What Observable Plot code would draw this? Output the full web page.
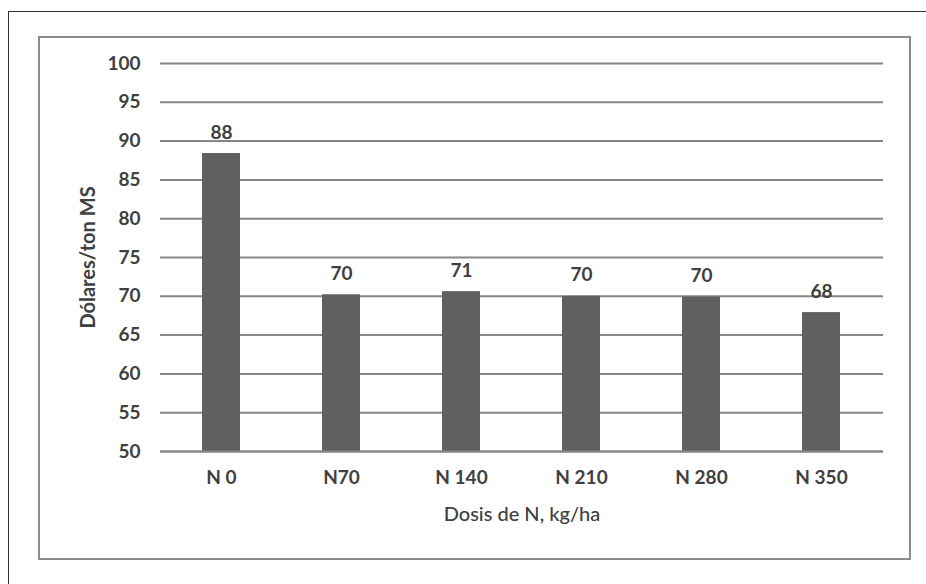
<!DOCTYPE html>
<html>
<head>
<meta charset="utf-8">
<script src="https://cdn.jsdelivr.net/npm/d3@7"></script>
<script src="https://cdn.jsdelivr.net/npm/@observablehq/plot@0.6"></script>
<style>
  html, body { margin: 0; padding: 0; background: #fff; }
  #wrap { position: relative; width: 926px; height: 584px; overflow: hidden; background: #fff; }
  #outerTop { position: absolute; left: 8px; top: 11px; width: 930px; height: 0; border-top: 1.5px solid #333; }
  #outerLeft { position: absolute; left: 8px; top: 11px; width: 0; height: 600px; border-left: 1.5px solid #333; }
  #inner { position: absolute; left: 38px; top: 36px; width: 869px; height: 520px; border: 2px solid #8c8c8c; }
  #chart { position: absolute; left: 0; top: 0; }
</style>
</head>
<body>
<div id="wrap">
  <div id="outerTop"></div>
  <div id="outerLeft"></div>
  <div id="inner"></div>
  <div id="chart"></div>
</div>
<script>
const categories = ["N 0", "N70", "N 140", "N 210", "N 280", "N 350"];
const values = [88.4, 70.2, 70.6, 70.0, 69.9, 67.9];
const valueLabels = ["88", "70", "71", "70", "70", "68"];
const yTicks = [50, 55, 60, 65, 70, 75, 80, 85, 90, 95, 100];

const data = categories.map((c, i) => ({ cat: c, value: values[i], label: valueLabels[i] }));

const font = "Lato, 'Open Sans', sans-serif";
const chart = Plot.plot({
  width: 926,
  height: 584,
  marginLeft: 160,
  marginRight: 43,
  marginTop: 63,
  marginBottom: 133,
  style: { fontFamily: font, fontSize: "19px", color: "#404040", background: "transparent", overflow: "visible" },
  x: { domain: categories, paddingInner: 0.68, paddingOuter: 0.34, label: null },
  y: { domain: [50, 100], label: null },
  marks: [
    Plot.gridY(yTicks, { stroke: "#868686", strokeWidth: 2, strokeOpacity: 1 }),
    Plot.barY(data, { x: "cat", y1: 50, y2: "value", fill: "#606060" }),
    Plot.ruleY([50], { stroke: "#868686", strokeWidth: 2 }),
    Plot.axisY(yTicks, { tickSize: 0, tickPadding: 20, fontWeight: "bold", fontSize: 19, fill: "#404040", label: null }),
    Plot.axisX({ tickSize: 0, tickPadding: 19, fontWeight: "bold", fontSize: 19, fill: "#404040", label: null }),
    Plot.text(data, { x: "cat", y: "value", text: "label", dy: -21, fontWeight: "bold", fontSize: 19, fill: "#404040" }),
    Plot.text(["Dólares/ton MS"], { frameAnchor: "left", textAnchor: "middle", dx: -72, rotate: -90, fontWeight: "bold", fontSize: 20, fill: "#404040" }),
    Plot.text(["Dosis de N, kg/ha"], { frameAnchor: "bottom", dy: 69, fontSize: 20, fontWeight: 500, fill: "#404040" })
  ]
});
document.getElementById("chart").appendChild(chart);
</script>
</body>
</html>
